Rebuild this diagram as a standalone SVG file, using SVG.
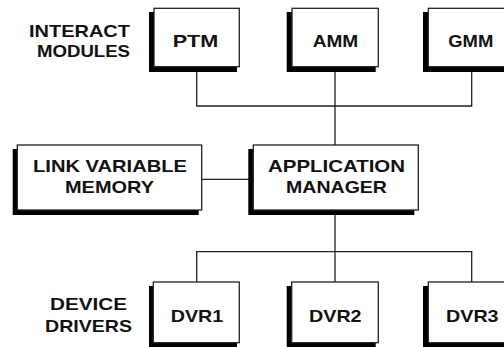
<svg xmlns="http://www.w3.org/2000/svg" width="504" height="347" viewBox="0 0 504 347">
<style>
.sh{fill:#000}
.bx{fill:#fff;stroke:#222;stroke-width:1.3}
.t{font-family:"Liberation Sans",Arial,sans-serif;font-weight:bold;font-size:17px;fill:#111}
.c{stroke:#222;stroke-width:1.3;fill:none}
</style>
<g id="label-interact">
<text class="t" x="29" y="37" textLength="101" lengthAdjust="spacingAndGlyphs">INTERACT</text>
<text class="t" x="37" y="57" textLength="93" lengthAdjust="spacingAndGlyphs">MODULES</text>
</g>
<g id="label-device">
<text class="t" x="50" y="310" textLength="77" lengthAdjust="spacingAndGlyphs">DEVICE</text>
<text class="t" x="45" y="331.5" textLength="87" lengthAdjust="spacingAndGlyphs">DRIVERS</text>
</g>
<g id="connectors">
<path class="c" d="M196.7 70V106H471.7V70M335 70V148"/>
<path class="c" d="M202 179.3H249"/>
<path class="c" d="M335 213V285M196.7 285V251.7H471.7V285"/>
</g>
<g id="ptm">
<rect class="sh" x="149" y="12" width="88" height="60"/>
<rect class="bx" x="154" y="8.3" width="85.3" height="58.4"/>
<text class="t" x="172.7" y="46.7" textLength="45.6" lengthAdjust="spacingAndGlyphs">PTM</text>
</g>
<g id="amm">
<rect class="sh" x="286.7" y="12" width="89" height="60"/>
<rect class="bx" x="292" y="8.3" width="86.3" height="58.4"/>
<text class="t" x="312.7" y="46.7" textLength="45.6" lengthAdjust="spacingAndGlyphs">AMM</text>
</g>
<g id="gmm">
<rect class="sh" x="423" y="12" width="90" height="60"/>
<rect class="bx" x="428.3" y="8.3" width="90" height="58.4"/>
<text class="t" x="448.3" y="46.7" textLength="45" lengthAdjust="spacingAndGlyphs">GMM</text>
</g>
<g id="link-variable-memory">
<rect class="sh" x="12.7" y="149" width="186" height="66"/>
<rect class="bx" x="17.3" y="145" width="184.4" height="65"/>
<text class="t" x="33" y="172" textLength="154" lengthAdjust="spacingAndGlyphs">LINK VARIABLE</text>
<text class="t" x="65" y="193" textLength="89" lengthAdjust="spacingAndGlyphs">MEMORY</text>
</g>
<g id="application-manager">
<rect class="sh" x="248.3" y="149" width="166" height="66"/>
<rect class="bx" x="253.3" y="145" width="165" height="65"/>
<text class="t" x="268" y="172" textLength="137" lengthAdjust="spacingAndGlyphs">APPLICATION</text>
<text class="t" x="286" y="193" textLength="101" lengthAdjust="spacingAndGlyphs">MANAGER</text>
</g>
<g id="dvr1">
<rect class="sh" x="149" y="286" width="88" height="61"/>
<rect class="bx" x="153.3" y="282" width="86" height="60.7"/>
<text class="t" x="170.7" y="321.7" textLength="52.6" lengthAdjust="spacingAndGlyphs">DVR1</text>
</g>
<g id="dvr2">
<rect class="sh" x="286.7" y="286" width="89" height="61"/>
<rect class="bx" x="291.7" y="282" width="86.6" height="60.7"/>
<text class="t" x="309" y="321.7" textLength="52.6" lengthAdjust="spacingAndGlyphs">DVR2</text>
</g>
<g id="dvr3">
<rect class="sh" x="423" y="286" width="90" height="61"/>
<rect class="bx" x="428.3" y="282" width="90" height="60.7"/>
<text class="t" x="446" y="321.7" textLength="52.6" lengthAdjust="spacingAndGlyphs">DVR3</text>
</g>
</svg>
